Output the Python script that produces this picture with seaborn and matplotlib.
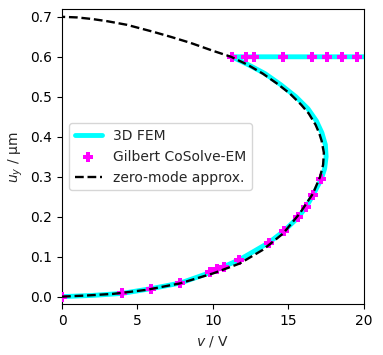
import matplotlib
matplotlib.use("Agg")
import matplotlib.pyplot as plt
import seaborn as sns

# 3D FEM curve (voltage v, displacement u_y), traced along the branch
fem_v = [0.0, 2.0, 3.96, 5.9, 7.84, 9.8, 11.74, 13.7, 14.7, 15.64, 16.19, 16.63,
         17.18, 17.4, 17.5, 17.45, 17.22, 16.85, 16.3, 15.5, 14.5, 13.45, 12.35, 11.25,
         12.0, 14.0, 16.0, 18.0, 20.0]
fem_u = [0.0, 0.003, 0.008, 0.02, 0.034, 0.06, 0.092, 0.135, 0.164, 0.198, 0.225, 0.254,
         0.294, 0.32, 0.35, 0.38, 0.41, 0.44, 0.47, 0.50, 0.53, 0.558, 0.58, 0.6,
         0.6, 0.6, 0.6, 0.6, 0.6]

# Gilbert CoSolve-EM points
em_v = [0.0, 3.96, 5.9, 7.84, 9.8, 10.24, 10.75, 11.74, 13.7, 14.69, 15.64, 16.19,
        16.63, 17.18, 11.25, 12.22, 12.73, 14.67, 16.59, 17.58, 18.57, 19.54]
em_u = [0.0, 0.008, 0.02, 0.034, 0.061, 0.069, 0.075, 0.092, 0.135, 0.164, 0.198, 0.225,
        0.254, 0.294, 0.6, 0.6, 0.6, 0.6, 0.6, 0.6, 0.6, 0.6]

# zero-mode approximation
zm_v = [0.0, 1.7, 3.4, 5.6, 7.8, 10.0, 11.78, 13.3, 14.65, 15.75, 16.63, 17.1, 17.3,
        17.35, 17.2, 17.05, 16.8, 16.35, 15.85, 15.1, 14.25, 13.3, 12.3, 11.2, 10.0, 8.5,
        7.2, 6.0, 4.3, 3.0, 2.0, 1.0, 0.0]
zm_u = [0.0, 0.003, 0.007, 0.017, 0.033, 0.058, 0.083, 0.117, 0.158, 0.208, 0.258, 0.3, 0.33,
        0.36, 0.39, 0.408, 0.43, 0.458, 0.48, 0.508, 0.533, 0.558, 0.58, 0.60, 0.615, 0.635,
        0.65, 0.663, 0.68, 0.689, 0.6945, 0.6985, 0.70]

sns.set_style("ticks")
plt.rcParams["font.family"] = ["DejaVu Sans"]
plt.rcParams["axes.edgecolor"] = "black"
plt.rcParams["xtick.color"] = "black"
plt.rcParams["ytick.color"] = "black"

fig = plt.figure(figsize=(3.83, 3.55), dpi=100)
ax = fig.add_axes([0.162, 0.143, 0.788, 0.831])

sns.lineplot(x=fem_v, y=fem_u, sort=False, estimator=None, color="cyan", lw=3.5,
             label="3D FEM", ax=ax)
sns.scatterplot(x=em_v, y=em_u, marker="P", color="magenta", s=60, linewidth=0,
                label="Gilbert CoSolve-EM", ax=ax, zorder=3)
sns.lineplot(x=zm_v, y=zm_u, sort=False, estimator=None, color="black", lw=1.7,
             linestyle="--", label="zero-mode approx.", ax=ax, zorder=4)

ax.set_xlim(0, 20)
ax.set_ylim(-0.019, 0.719)
ax.set_xticks([0, 5, 10, 15, 20])
ax.set_yticks([0.0, 0.1, 0.2, 0.3, 0.4, 0.5, 0.6, 0.7])
ax.tick_params(labelsize=10, length=3.5, width=0.8)
for s in ax.spines.values():
    s.set_linewidth(0.8)
ax.set_xlabel("$v$ / V", fontsize=10)
ax.set_ylabel("$u_y$ / μm", fontsize=10)
ax.legend(loc="center left", fontsize=10, frameon=True)

fig.savefig("out.png", dpi=100)
